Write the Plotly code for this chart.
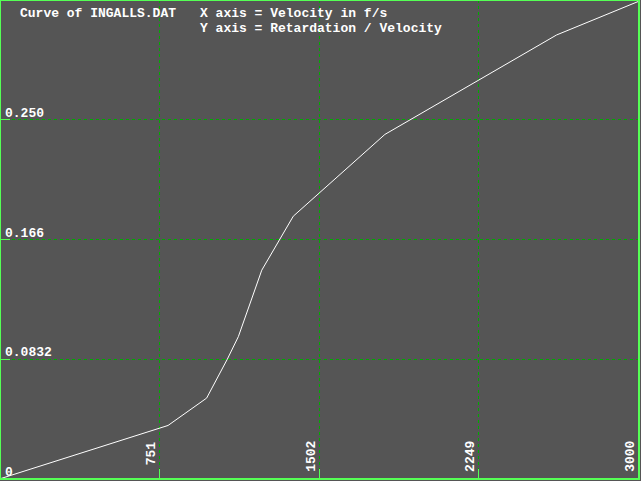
import plotly.graph_objects as go

# Curve data (velocity f/s, retardation/velocity)
velocity = [0, 792, 973, 1020, 1070, 1122, 1177, 1232, 1380, 1810, 2616, 3000]
ret_over_vel = [0.0, 0.0372, 0.0562, 0.0688, 0.0832, 0.0989, 0.1220, 0.1451, 0.1826, 0.2394, 0.3085, 0.3318]

x_tick_vals = [751, 1502, 2249, 3000]
x_tick_text = ["751", "1502", "2249", "3000"]
y_tick_vals = [0, 0.0832, 0.1664, 0.2496]
y_tick_text = ["0", "0.0832", "0.166", "0.250"]

title_main = "Curve of INGALLS.DAT"
title_x = "X axis = Velocity in f/s"
title_y = "Y axis = Retardation / Velocity"

BG = "#555555"
BRIGHT_GREEN = "#55ff55"
DARK_GREEN = "#00aa00"
WHITE = "#ffffff"
FONT = "Liberation Mono, DejaVu Sans Mono, monospace"
FS = 13

W, H = 641, 481
ML, MR, MT, MB = 0, 2, 0, 2
PW, PH = W - ML - MR, H - MT - MB

fig = go.Figure()
fig.add_trace(go.Scatter(x=velocity, y=ret_over_vel, mode="lines",
                         line=dict(color=WHITE, width=1), hoverinfo="skip",
                         showlegend=False))

fig.update_layout(
    width=W, height=H,
    margin=dict(l=ML, r=MR, t=MT, b=MB, pad=0),
    paper_bgcolor=BG, plot_bgcolor=BG,
    showlegend=False,
    xaxis=dict(range=[3, 3003], tickvals=x_tick_vals, showticklabels=False,
               showgrid=True, gridcolor=DARK_GREEN, gridwidth=1, griddash="3px,3px",
               zeroline=False, showline=False, ticks="inside", ticklen=10,
               tickcolor=BRIGHT_GREEN, tickwidth=1, fixedrange=True),
    yaxis=dict(range=[0, 0.3328], tickvals=y_tick_vals, showticklabels=False,
               showgrid=True, gridcolor=DARK_GREEN, gridwidth=1, griddash="3px,3px",
               zeroline=False, showline=False, ticks="inside", ticklen=10,
               tickcolor=BRIGHT_GREEN, tickwidth=1, fixedrange=True),
)

# Border
fig.add_shape(type="rect", xref="paper", yref="paper", x0=0, x1=1, y0=0, y1=1,
              line=dict(color=BRIGHT_GREEN, width=2), layer="above")

font = dict(family=FONT, size=FS, color=WHITE, weight="bold")

# Y tick labels
for v, t in zip(y_tick_vals, y_tick_text):
    fig.add_annotation(text=t, x=4 / PW, xref="paper", xanchor="left",
                       y=v, yref="y", yanchor="bottom", yshift=-2,
                       showarrow=False, font=font, borderpad=0)

# X tick labels (rotated)
for v, t in zip(x_tick_vals, x_tick_text):
    fig.add_annotation(text=t, x=v, xref="x", xanchor="center", xshift=-8,
                       y=1 - 440 / PH, yref="paper", yanchor="top",
                       textangle=-90, showarrow=False, font=font, borderpad=0)

# Titles
fig.add_annotation(text=title_main, x=19 / PW, xref="paper", xanchor="left",
                   y=1 - 13.5 / PH, yref="paper", yanchor="middle",
                   showarrow=False, font=font, borderpad=0)
fig.add_annotation(text=title_x, x=199 / PW, xref="paper", xanchor="left",
                   y=1 - 13.5 / PH, yref="paper", yanchor="middle",
                   showarrow=False, font=font, borderpad=0)
fig.add_annotation(text=title_y, x=199 / PW, xref="paper", xanchor="left",
                   y=1 - 28.5 / PH, yref="paper", yanchor="middle",
                   showarrow=False, font=font, borderpad=0)

fig.write_html(
    "out.html",
    config={"displayModeBar": False, "staticPlot": True},
    post_script="document.body.style.margin='0';document.body.style.overflow='hidden';"
                "document.body.style.background='" + BG + "';",
)
